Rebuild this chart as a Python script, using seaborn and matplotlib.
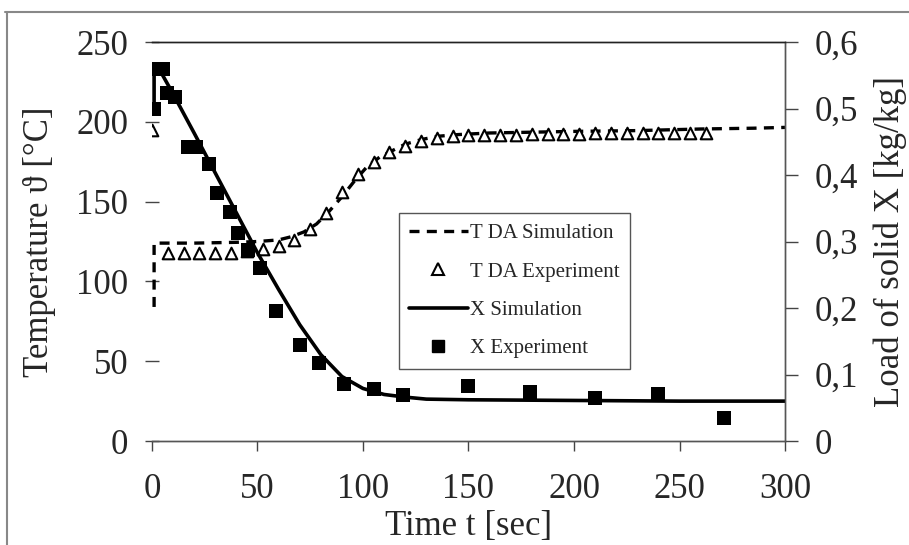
import numpy as np
import pandas as pd
import matplotlib
matplotlib.use('Agg')
import matplotlib.pyplot as plt
from matplotlib.lines import Line2D
import seaborn as sns

# T DA simulation (dashed, left axis)
t_sim_T = [1.0, 1.0, 3, 20, 40, 50, 60, 66, 72, 78, 84, 90, 96, 102, 108, 114, 120, 128,
           136, 145, 160, 180, 200, 230, 260, 285, 300]
T_sim = [84, 124, 124, 124, 124.5, 125, 126, 128, 131, 136, 144, 153, 163, 172, 178, 182,
         186, 189, 191, 192, 193, 193.5, 194, 194.5, 195.5, 196, 196.5]

# T DA experiment (triangles, left axis)
t_exp_T = [0, 7.5, 15, 22.5, 30, 37.5, 45, 52.5, 60, 67.5, 75, 82.5, 90, 97.5, 105, 112.5,
           120, 127.5, 135, 142.5, 150, 157.5, 165, 172.5, 180, 187.5, 195, 202.5, 210,
           217.5, 225, 232.5, 240, 247.5, 255, 262.5]
T_exp = [195, 118, 118, 118, 118, 118, 119, 120, 122, 126, 133, 143, 156, 167, 175, 181,
         185, 188, 190, 191, 191.5, 192, 192, 192, 192.5, 192.5, 192.5, 192.5, 193, 193,
         193, 193, 193, 193, 193, 193]

# X simulation (solid, right axis)
t_sim_X = [1.0, 1.0, 4, 10, 20, 30, 40, 50, 60, 70, 80, 90, 100, 110, 120, 130, 150, 200,
           250, 300]
X_sim = [0.50, 0.558, 0.556, 0.522, 0.463, 0.403, 0.343, 0.283, 0.228, 0.175, 0.130, 0.097,
         0.079, 0.070, 0.066, 0.063, 0.062, 0.061, 0.060, 0.060]

# X experiment (squares, right axis)
t_exp_X = [1, 2.5, 5, 7, 11, 17, 21, 27, 31, 37, 41, 45.5, 51, 59, 70, 79, 91, 105, 119,
           150, 179, 210, 240, 271]
X_exp = [0.50, 0.56, 0.56, 0.523, 0.517, 0.442, 0.442, 0.417, 0.373, 0.344, 0.313, 0.287,
         0.26, 0.195, 0.145, 0.117, 0.085, 0.078, 0.069, 0.083, 0.073, 0.064, 0.070, 0.034]

sns.set_style('ticks')
plt.rcParams['font.family'] = ['Liberation Serif', 'DejaVu Serif']

fig = plt.figure(figsize=(9.09, 5.45), dpi=100)
ax = fig.add_axes([0.1672, 0.1908, 0.6964, 0.7321])
ax2 = ax.twinx()

dash = (0, (3, 2.2))
sns.lineplot(x=t_sim_T, y=T_sim, ax=ax, color='black', lw=2.4, estimator=None, sort=False,
             linestyle=dash, label='T DA Simulation', legend=False)
sns.scatterplot(x=t_exp_T, y=T_exp, ax=ax, marker='^', s=70, facecolor='white',
                edgecolor='black', linewidth=1.5, label='T DA Experiment', legend=False,
                zorder=3)
sns.lineplot(x=t_sim_X, y=X_sim, ax=ax2, color='black', lw=2.6, estimator=None, sort=False,
             label='X Simulation', legend=False)
sns.scatterplot(x=t_exp_X, y=X_exp, ax=ax2, marker='s', s=90, color='black',
                edgecolor='black', linewidth=0, label='X Experiment', legend=False,
                zorder=3)

ax.set_xlim(0, 300)
ax.set_ylim(0, 250)
ax2.set_ylim(0, 0.6)
ax.set_xticks([0, 50, 100, 150, 200, 250, 300])
ax.set_yticks([0, 50, 100, 150, 200, 250])
ax2.set_yticks([0, 0.1, 0.2, 0.3, 0.4, 0.5, 0.6])
ax2.set_yticklabels(['0', '0,1', '0,2', '0,3', '0,4', '0,5', '0,6'])

for a in (ax, ax2):
    a.spines['left'].set_visible(False)
    a.spines['top'].set_color('#222222')
    for s in ('right', 'bottom'):
        a.spines[s].set_color('#555555')
    for s in ('top', 'right', 'bottom'):
        a.spines[s].set_linewidth(1.0)

ax.tick_params(axis='y', direction='inout', length=10, width=1, color='#444444',
               labelsize=25, pad=12)
ax.tick_params(axis='x', direction='out', length=7, width=1, color='#444444',
               labelsize=25, pad=16)
ax2.tick_params(axis='y', direction='out', length=9, width=1, color='#444444',
                labelsize=25, pad=12)

ax.set_xlabel('Time t [sec]', fontsize=25, labelpad=3)
ax.set_ylabel('Temperature ϑ [°C]', fontsize=25)
ax2.set_ylabel('Load of solid X [kg/kg]', fontsize=25)
ax.yaxis.set_label_coords(-0.152, 0.5)
ax2.yaxis.set_label_coords(1.140, 0.5)

handles = [
    Line2D([], [], color='black', lw=2.4, linestyle=dash),
    Line2D([], [], color='white', marker='^', markersize=8.5, markerfacecolor='white',
           markeredgecolor='black', markeredgewidth=1.5, lw=0),
    Line2D([], [], color='black', lw=2.6),
    Line2D([], [], color='black', marker='s', markersize=9, lw=0),
]
labels = ['T DA Simulation', 'T DA Experiment', 'X Simulation', 'X Experiment']
leg = ax2.legend(handles, labels, loc='upper left', bbox_to_anchor=(0.39, 0.571),
                 borderaxespad=0, fontsize=15, frameon=True, fancybox=False,
                 handlelength=2.8, handletextpad=0.1, labelspacing=0.9,
                 borderpad=0.5, edgecolor='#555555')
leg.get_frame().set_linewidth(1.0)
leg.get_frame().set_alpha(1)

# outer frame of the original picture (top and left edge)
fig.add_artist(Line2D([0.005, 1.0], [0.978, 0.978], color='#888888', lw=1.5))
fig.add_artist(Line2D([0.008, 0.008], [0.0, 0.978], color='#888888', lw=1.5))

fig.savefig('out.png', dpi=100)
